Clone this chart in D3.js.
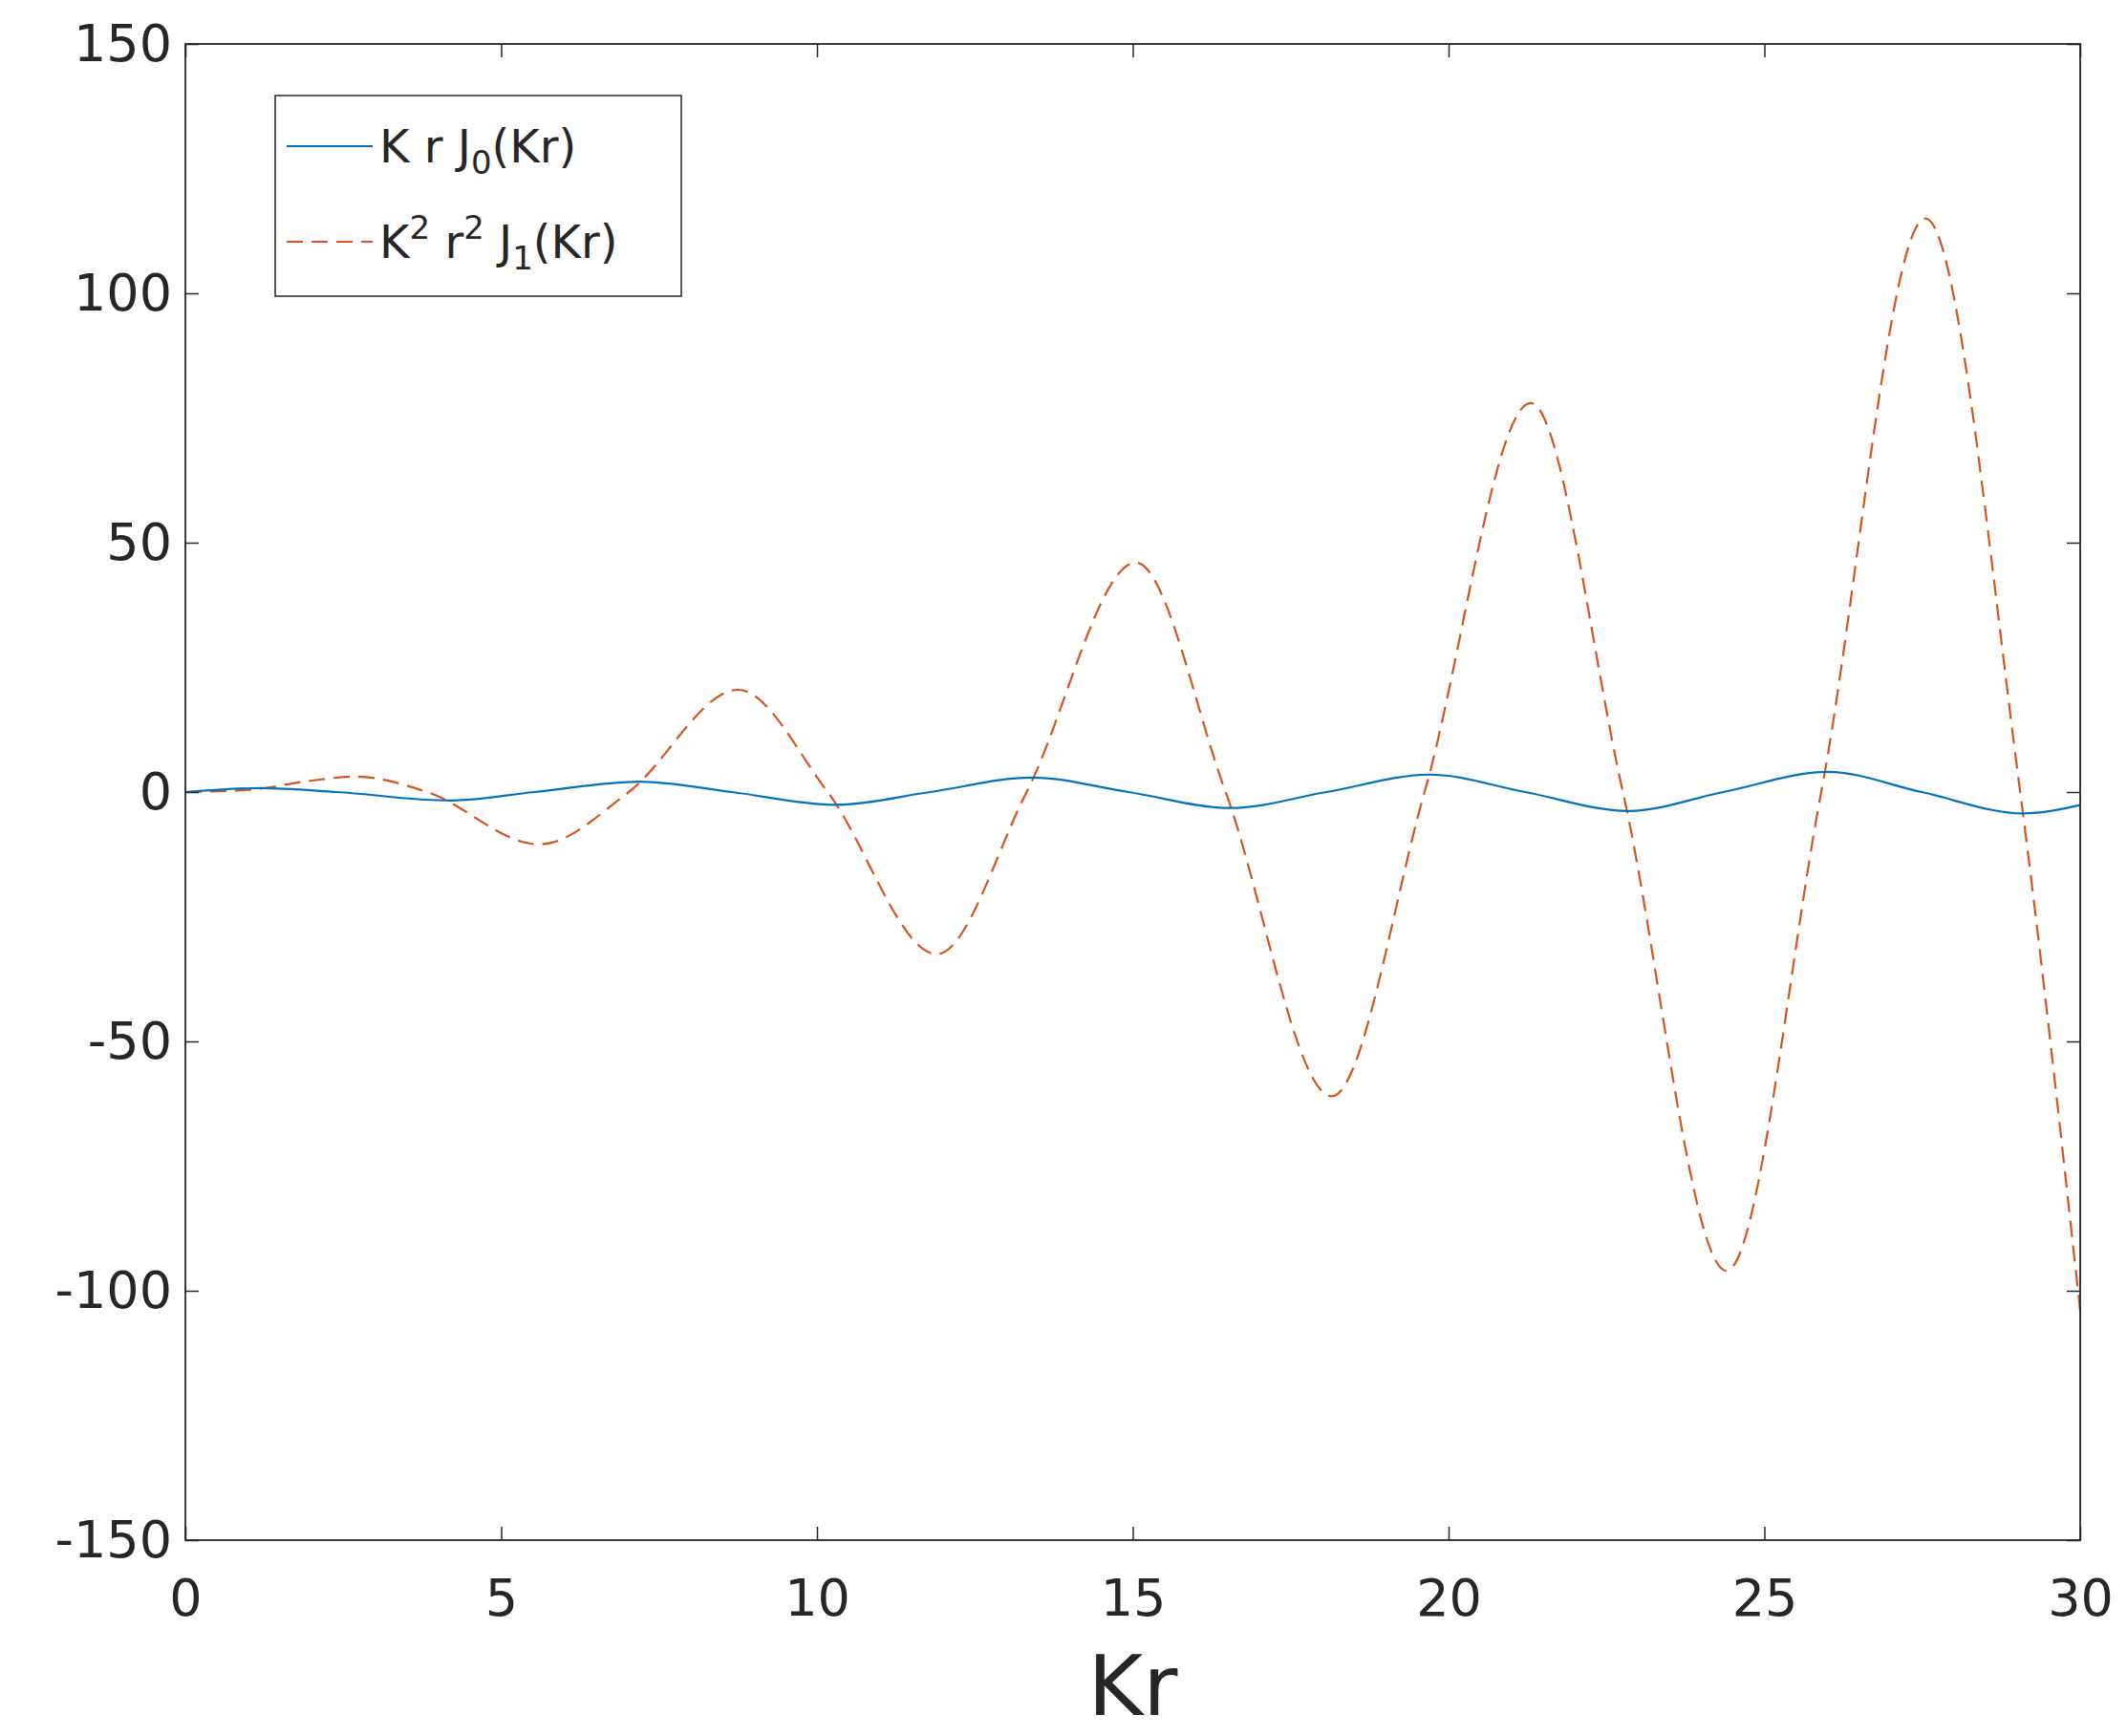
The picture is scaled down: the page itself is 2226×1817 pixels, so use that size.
<!DOCTYPE html>
<html>
<head>
<meta charset="utf-8">
<script src="https://d3js.org/d3.v7.min.js"></script>
<style>
  body { margin: 0; background: #fff; }
  text { font-family: "DejaVu Sans", sans-serif; fill: #262626; }
</style>
</head>
<body>
<div id="chart"></div>
<script>
// values (extrema and zero crossings)
let xJ0 = [0, 1.2, 2.4, 4.2, 5.52, 7.2, 8.65, 10.3, 11.79, 13.4, 14.93, 16.55, 18.07, 19.7, 21.21, 22.85, 24.35, 26, 27.49, 29.1, 30];
let yJ0 = [0, 0.8, 0, -1.7, 0, 2.1, 0, -2.55, 0, 2.9, 0, -3.2, 0, 3.5, 0, -3.8, 0, 4.05, 0, -4.3, -2.6];
let xJ1 = [0, 1, 2, 2.7, 3.83, 5.6, 7.02, 8.75, 10.17, 11.9, 13.32, 15.05, 16.47, 18.15, 19.62, 21.3, 22.76, 24.4, 25.9, 27.55, 29.05, 30];
let yJ1 = [0, 0.44, 2.3, 3.1, 0, -10.5, 0, 20.5, 0, -32.5, 0, 46, 0, -61, 0, 78, 0, -96, 0, 115, 0, -104];
let xTicks = [0, 5, 10, 15, 20, 25, 30];
let yTicks = [-150, -100, -50, 0, 50, 100, 150];

let dim = { width: 2226, height: 1817, left: 194, right: 2177, top: 46, bottom: 1612 };

let svg = d3.select('#chart').append('svg')
    .attr('width', dim.width).attr('height', dim.height);

let scaleX = d3.scaleLinear().domain([0, 30]).range([dim.left, dim.right]);
let scaleY = d3.scaleLinear().domain([-150, 150]).range([dim.bottom, dim.top]);

let line = d3.line().x(d => scaleX(d[0])).y(d => scaleY(d[1])).curve(d3.curveMonotoneX);

svg.append('clipPath').attr('id', 'clip').append('rect')
    .attr('x', dim.left).attr('y', dim.top)
    .attr('width', dim.right - dim.left).attr('height', dim.bottom - dim.top);

let plot = svg.append('g').attr('clip-path', 'url(#clip)');
plot.append('path').datum(d3.zip(xJ1, yJ1)).attr('d', line)
    .attr('fill', 'none').attr('stroke', '#d95319').attr('stroke-width', 2.2)
    .attr('stroke-dasharray', '17,9');
plot.append('path').datum(d3.zip(xJ0, yJ0)).attr('d', line)
    .attr('fill', 'none').attr('stroke', '#0072bd').attr('stroke-width', 2.2);

let tick = 14;
let fmt = d => String(d);
function styleAxis(g) {
  g.select('.domain').remove();
  g.selectAll('line').attr('stroke', '#262626').attr('stroke-width', 1.5);
  g.selectAll('text').style('font-size', '54px').attr('fill', '#262626');
}
svg.append('g').attr('transform', `translate(0,${dim.bottom})`)
  .call(d3.axisTop(scaleX).tickValues(xTicks).tickSize(tick).tickFormat(fmt))
  .call(styleAxis)
  .selectAll('text').attr('y', 60).attr('dy', '0.35em');
svg.append('g').attr('transform', `translate(0,${dim.top})`)
  .call(d3.axisBottom(scaleX).tickValues(xTicks).tickSize(tick).tickFormat(''))
  .call(styleAxis);
svg.append('g').attr('transform', `translate(${dim.left},0)`)
  .call(d3.axisRight(scaleY).tickValues(yTicks).tickSize(tick).tickFormat(fmt))
  .call(styleAxis)
  .selectAll('text').attr('x', -14).attr('text-anchor', 'end');
svg.append('g').attr('transform', `translate(${dim.right},0)`)
  .call(d3.axisLeft(scaleY).tickValues(yTicks).tickSize(tick).tickFormat(''))
  .call(styleAxis);

svg.append('rect').attr('x', dim.left).attr('y', dim.top)
  .attr('width', dim.right - dim.left).attr('height', dim.bottom - dim.top)
  .attr('fill', 'none').attr('stroke', '#262626').attr('stroke-width', 1.8);

svg.append('text').attr('x', (dim.left + dim.right) / 2).attr('y', 1795)
  .attr('text-anchor', 'middle').style('font-size', '88px').text('Kr');

// legend
let lg = svg.append('g');
lg.append('rect').attr('x', 288).attr('y', 100).attr('width', 425).attr('height', 210)
  .attr('fill', '#fff').attr('stroke', '#262626').attr('stroke-width', 1.5);
lg.append('line').attr('x1', 300).attr('x2', 390).attr('y1', 153).attr('y2', 153)
  .attr('stroke', '#0072bd').attr('stroke-width', 2.2);
lg.append('line').attr('x1', 300).attr('x2', 390).attr('y1', 253).attr('y2', 253)
  .attr('stroke', '#d95319').attr('stroke-width', 2.2).attr('stroke-dasharray', '17,9');
let t1 = lg.append('text').attr('x', 397).attr('y', 153).attr('dy', '0.35em').style('font-size', '48px');
t1.append('tspan').text('K r J');
t1.append('tspan').attr('dy', 12).style('font-size', '34px').text('0');
t1.append('tspan').attr('dy', -12).text('(Kr)');
let t2 = lg.append('text').attr('x', 397).attr('y', 253).attr('dy', '0.35em').style('font-size', '48px');
t2.append('tspan').text('K');
t2.append('tspan').attr('dy', -20).style('font-size', '34px').text('2');
t2.append('tspan').attr('dy', 20).text(' r');
t2.append('tspan').attr('dy', -20).style('font-size', '34px').text('2');
t2.append('tspan').attr('dy', 20).text(' J');
t2.append('tspan').attr('dy', 12).style('font-size', '34px').text('1');
t2.append('tspan').attr('dy', -12).text('(Kr)');
</script>
</body>
</html>
